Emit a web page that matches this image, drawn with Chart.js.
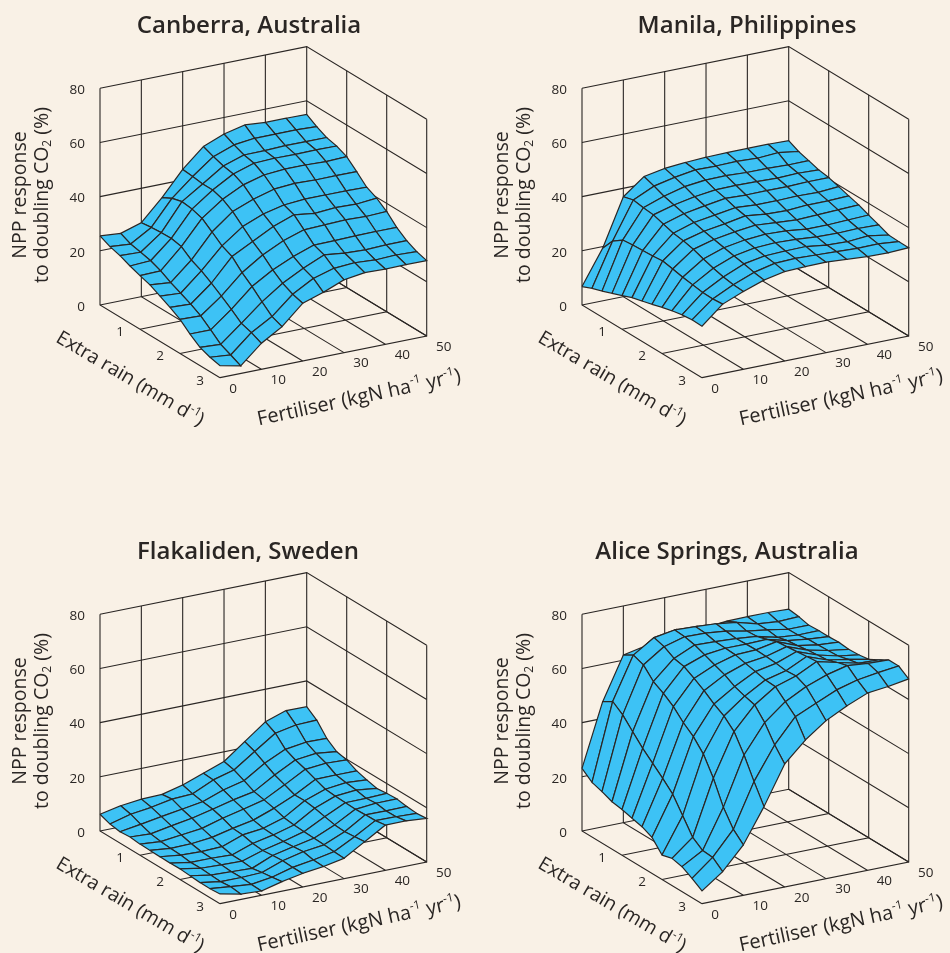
<!DOCTYPE html>
<html>
<head>
<meta charset="utf-8">
<title>NPP response to doubling CO2</title>
<script src="https://cdn.jsdelivr.net/npm/chart.js@4/dist/chart.umd.min.js"></script>
<style>
    html, body { margin: 0; padding: 0; width: 950px; height: 953px; overflow: hidden; background: #f9f1e6; }
    canvas { position: absolute; }
</style>
</head>
<body>
<canvas id="canberra" style="left:0;top:0"></canvas>
<canvas id="manila" style="left:482px;top:0"></canvas>
<canvas id="flakaliden" style="left:0;top:526px"></canvas>
<canvas id="alice" style="left:482px;top:526px"></canvas>
<script>
// Axis values
const fertiliserSteps = [0, 5, 10, 15, 20, 25, 30, 35, 40, 45, 50];
const rainSteps = [0, 0.25, 0.5, 0.75, 1, 1.25, 1.5, 1.75, 2, 2.25, 2.5, 2.75, 3];
const nppTicks = [0, 20, 40, 60, 80];
const fertiliserTicks = [0, 10, 20, 30, 40, 50];
const rainTicks = [1, 2, 3];

// NPP response, one row per fertiliser step, one value per rain step
const canberra = [
    [25.5, 23.8, 22.7, 21.1, 19.8, 18.6, 16.7, 14.8, 12.6, 9.4, 6.7, 5.3, 4.4],
    [24.9, 23.2, 22.4, 21.5, 20, 17.9, 16.2, 14.4, 12.3, 9.4, 6.3, 4.6, 2.8],
    [27.3, 27.8, 28.1, 28.2, 27.4, 24.7, 22.9, 20.6, 18.1, 15.4, 12.5, 11.3, 9.6],
    [35, 37, 38, 37.5, 36.3, 33.5, 30.6, 28.9, 25.2, 22.3, 18.9, 15.7, 14.2],
    [43.9, 43.5, 43, 43, 41.8, 39.5, 36.2, 32.9, 30.2, 26.9, 24.2, 22.4, 21.3],
    [50.8, 49.3, 48.1, 47.4, 45.6, 42.5, 39.3, 36.9, 33.9, 30.3, 28.2, 26.7, 23.8],
    [53.9, 52.1, 50.6, 49.8, 47.7, 44.7, 41.1, 39.7, 36.4, 33, 31.6, 28.9, 26.9],
    [55.7, 53, 50.7, 50.1, 48.3, 45.3, 41.7, 38.7, 36.7, 33.1, 30.7, 29.4, 28],
    [55.1, 53, 51, 50, 48.3, 45, 41.7, 39.3, 37, 33.3, 30.4, 28.9, 27.8],
    [55.1, 53, 50.9, 50.1, 48, 45.1, 41.7, 39, 36.7, 33.4, 30.7, 29.2, 27.9],
    [55, 52.7, 50.9, 50, 48.3, 45, 41.5, 39.7, 37, 33.4, 30.7, 28.9, 27.8]
];
const manila = [
    [6.8, 8.4, 9.6, 11, 12.4, 13.9, 14.9, 15.9, 17, 18, 18.7, 19.1, 19],
    [19.4, 24.3, 26.9, 27.3, 27.5, 27.7, 28.1, 27.4, 26.6, 26, 25.4, 25.3, 25.6],
    [36.9, 37.9, 37.3, 36.9, 35.7, 34.6, 34, 33.1, 31.8, 30.6, 29.6, 29, 28.7],
    [42.8, 41.5, 40, 39, 38, 37, 36, 35.2, 34.4, 33.6, 32.9, 32, 31.4],
    [44.3, 43.2, 42, 40.5, 39.4, 38.2, 37.2, 36.5, 35.7, 35, 34.3, 33.8, 33],
    [44.9, 44.4, 42.9, 41.5, 40.6, 39.4, 38.6, 37.4, 36.3, 35.4, 34.6, 34.1, 33.3],
    [45.3, 44.3, 43, 41.6, 40.3, 38.9, 37.7, 36.8, 36, 35.1, 34.7, 33.8, 33.4],
    [45.5, 44.5, 42.6, 41.5, 40.4, 38.9, 37.5, 36.3, 35.1, 34.5, 33.7, 33.5, 32.9],
    [45.5, 44.1, 42.6, 41.2, 40.3, 39.1, 38, 36.6, 35.1, 34.3, 33.4, 33.2, 32.4],
    [45.5, 44.6, 42.3, 41.5, 40.6, 38.9, 38, 36.9, 35.4, 34.5, 34, 33.3, 32.2],
    [45.3, 43.5, 42.4, 41.2, 40.6, 39.5, 38.3, 37.2, 35.7, 34.3, 32.8, 32.6, 32.6]
];
const flakaliden = [
    [6.2, 4.8, 4.2, 4.5, 4.1, 4, 3.9, 3.8, 3.9, 3.6, 3.3, 3.3, 3.6],
    [7.8, 6.9, 5.4, 4.1, 3.5, 3.2, 3, 2.5, 2.6, 2.3, 2.1, 2.5, 2],
    [8.7, 7.9, 6.7, 5.5, 4.4, 3.4, 2.7, 2.5, 2.3, 2, 2.1, 1.8, 1.6],
    [8.9, 9.4, 7.9, 6.8, 5.3, 4.2, 3, 2.2, 2.1, 1.7, 2.4, 2.9, 3.5],
    [10.8, 9.8, 9.1, 8.6, 7.5, 6, 5.8, 4.9, 4.5, 4.9, 5.2, 5, 5],
    [13.6, 13.4, 11.9, 10.5, 9.3, 7.5, 6.7, 6.5, 6.3, 6.6, 7, 6.2, 6],
    [16.4, 15.5, 13.8, 12, 11.2, 10.3, 9.1, 8.6, 8.4, 8.2, 8, 7.7, 7.5],
    [22.2, 20.8, 18.7, 16.6, 15.2, 13.7, 13.8, 13.3, 12.4, 11.6, 11.3, 11.7, 12.1],
    [28, 26, 22.3, 20.6, 19.4, 17.9, 16.5, 16.2, 16, 15.8, 16, 16.1, 16.7],
    [30.6, 27.5, 23.4, 21.5, 20.1, 18, 17.4, 16.9, 16.1, 16.5, 15.9, 16, 16.7],
    [30.5, 27.8, 23.3, 20.6, 19.8, 18, 16.9, 16, 16.4, 16.6, 16, 15.7, 16.1]
];
const alice = [
    [23.1, 20.2, 19, 17.5, 16.9, 15.9, 15, 13.3, 9, 10, 9.2, 7.1, 4.7],
    [46.2, 48.5, 45.8, 41.8, 37.9, 34.6, 31.3, 27.7, 22, 16.2, 13.6, 13.3, 10.3],
    [61.9, 64.1, 62.7, 58.8, 56.7, 54, 50.3, 47.4, 43.2, 36.5, 28, 22.1, 18.6],
    [63.5, 69, 67.9, 65.8, 65, 62.9, 60.6, 57.9, 55.7, 52.2, 45.8, 38.2, 31.2],
    [65, 70.3, 70, 69.2, 67.8, 66.3, 64.9, 62.8, 61.5, 60.5, 56.2, 50.2, 45.4],
    [65.5, 70, 69.8, 68.9, 68.7, 68.5, 67.6, 66.8, 65.9, 65.7, 62.4, 59.1, 52.7],
    [66, 69.5, 69, 68.5, 68.7, 68.8, 68.6, 68.3, 67.8, 68.1, 66.4, 62.5, 58.3],
    [66.7, 68.5, 67.5, 67.8, 68.9, 70.3, 70.7, 71.1, 71.5, 71.9, 69.2, 65.9, 62.2],
    [66.8, 66.4, 66.4, 65.9, 66.9, 67.3, 67.9, 68.3, 68.7, 70, 71.1, 68, 65.4],
    [66.8, 65.7, 65.1, 65.2, 65.9, 66, 66.2, 66.4, 67.4, 68.2, 70.4, 69.2, 66.3],
    [66.5, 66, 65.1, 65.3, 65.3, 65.5, 65.1, 65.3, 65.9, 67.9, 70.1, 70.1, 67.6]
];

// Look of the panels
const inkColor = '#2a2624';
const surfaceColor = '#3dc2f5';
const fontName = '"Open Sans", "Noto Sans", sans-serif';
const panelWidth = 468, panelHeight = 427;
const axisLeft = 100, originTop = 305;

// Oblique view of the box, in pixels per unit of each axis
const pxPerNpp = 216.7 / 80;
const pxPerFert = 206.7 / 50, fertRise = 41.7 / 50;
const rainRun = 40, rainDrop = 24.22;

// (fertiliser, rain, npp) to the values of the flat x and y scales
const project = function(f, r, z){
    return {
        x: f + r * rainRun / pxPerFert,
        y: z + (f * fertRise - r * rainDrop) / pxPerNpp
    };
}

const lineSet = function(points, color, width){
    return {
        data: points,
        showLine: true,
        fill: false,
        borderColor: color,
        borderWidth: width,
        pointRadius: 0,
        clip: false
    };
}

// Grid of the floor and of the two walls
const boxLines = function(){
    let sets = [];
    nppTicks.forEach(function(z){
        sets.push(lineSet([project(0, 0, z), project(50, 0, z), project(50, 3, z)], inkColor, 1.1));
    });
    fertiliserTicks.forEach(function(f){
        sets.push(lineSet([project(f, 0, 80), project(f, 0, 0), project(f, 3, 0)], inkColor, 1.1));
    });
    rainTicks.forEach(function(r){
        sets.push(lineSet([project(0, r, 0), project(50, r, 0), project(50, r, 80)], inkColor, 1.1));
    });
    return sets;
}

// One filled quad per grid cell, nearest first since the first dataset is painted last
const surfaceCells = function(values){
    let sets = [];
    for(let i = rainSteps.length - 2; i >= 0; i--){
        for(let j = 0; j < fertiliserSteps.length - 1; j++){
            let cell = lineSet([
                project(fertiliserSteps[j], rainSteps[i], values[j][i]),
                project(fertiliserSteps[j + 1], rainSteps[i], values[j + 1][i]),
                project(fertiliserSteps[j + 1], rainSteps[i + 1], values[j + 1][i + 1]),
                project(fertiliserSteps[j], rainSteps[i + 1], values[j][i + 1]),
                project(fertiliserSteps[j], rainSteps[i], values[j][i])
            ], inkColor, 1.2);
            cell.fill = 'shape';
            cell.backgroundColor = surfaceColor;
            sets.push(cell);
        }
    }
    return sets;
}

// Text with small raised or lowered runs, centred on a point
const drawRuns = function(ctx, runs, cx, cy, angle, size, weight){
    const full = (weight || '500') + ' ' + size + 'px ' + fontName;
    const small = (weight || '500') + ' ' + Math.round(size * 0.62) + 'px ' + fontName;
    let total = 0;
    runs.forEach(function(run){
        ctx.font = run.shift ? small : full;
        total += ctx.measureText(run.text).width;
    });
    ctx.save();
    ctx.translate(cx, cy);
    ctx.rotate(angle * Math.PI / 180);
    ctx.fillStyle = inkColor;
    ctx.textAlign = 'left';
    ctx.textBaseline = 'middle';
    let x = -total / 2;
    runs.forEach(function(run){
        ctx.font = run.shift ? small : full;
        ctx.fillText(run.text, x, (run.shift || 0) * size);
        x += ctx.measureText(run.text).width;
    });
    ctx.restore();
}

// Title, axis titles and the tick labels of the two floor axes
const panelText = function(title, titleX){
    return {
        id: 'panelText',
        afterDraw: function(chart){
            const ctx = chart.ctx, sx = chart.scales.x, sy = chart.scales.y;
            const pixel = function(f, r){
                let p = project(f, r, 0);
                return [sx.getPixelForValue(p.x), sy.getPixelForValue(p.y)];
            };
            drawRuns(ctx, [{text: title}], titleX, 26, 0, 24, '600');
            drawRuns(ctx, [{text: 'NPP response'}], 20, 195, -90, 19.5);
            drawRuns(ctx, [
                {text: 'to doubling CO'}, {text: '2', shift: 0.3}, {text: ' (%)'}
            ], 42, 195, -90, 19.5);
            drawRuns(ctx, [
                {text: 'Extra rain (mm d'}, {text: '-1', shift: -0.3}, {text: ')'}
            ], 130, 379, 30.5, 19.5);
            drawRuns(ctx, [
                {text: 'Fertiliser (kgN ha'}, {text: '-1', shift: -0.3}, {text: ' yr'}, {text: '-1', shift: -0.3}, {text: ')'}
            ], 359, 398, -12.2, 20);
            rainTicks.forEach(function(r){
                let p = pixel(0, r);
                drawRuns(ctx, [{text: String(r)}], p[0] - 20, p[1] + 3, 0, 13.5);
            });
            fertiliserTicks.forEach(function(f){
                let p = pixel(f, 3);
                drawRuns(ctx, [{text: String(f)}], p[0] + (f === 0 ? 13 : 17), p[1] + 11, 0, 13.5);
            });
        }
    };
}

const makePanel = function(id, title, titleX, values){
    let canvas = document.getElementById(id);
    canvas.width = panelWidth;
    canvas.height = panelHeight;
    new Chart(canvas.getContext('2d'), {
        type: 'scatter',
        data: {datasets: surfaceCells(values).concat(boxLines())},
        options: {
            responsive: false,
            animation: false,
            events: [],
            layout: {padding: 0},
            plugins: {legend: {display: false}, tooltip: {enabled: false}},
            scales: {
                x: {
                    type: 'linear',
                    display: false,
                    min: 0,
                    max: (panelWidth - axisLeft) / pxPerFert
                },
                y: {
                    type: 'linear',
                    min: (originTop - panelHeight) / pxPerNpp,
                    max: originTop / pxPerNpp,
                    grid: {display: false},
                    border: {display: false},
                    afterBuildTicks: function(axis){
                        axis.ticks = nppTicks.map(v => ({value: v}));
                    },
                    afterFit: function(axis){
                        // the scale has to fill the canvas height so the pixel sizes above hold
                        axis.width = axisLeft;
                        axis.paddingTop = 0;
                        axis.paddingBottom = 0;
                        axis._margins.top = 0;
                        axis._margins.bottom = 0;
                    },
                    ticks: {
                        color: inkColor,
                        padding: 7,
                        labelOffset: 2,
                        autoSkip: false,
                        font: {family: fontName, size: 13.5, weight: '500'}
                    }
                }
            }
        },
        plugins: [panelText(title, titleX)]
    });
}

makePanel('canberra', 'Canberra, Australia', 249, canberra);
makePanel('manila', 'Manila, Philippines', 265, manila);
makePanel('flakaliden', 'Flakaliden, Sweden', 248, flakaliden);
makePanel('alice', 'Alice Springs, Australia', 245, alice);
</script>
</body>
</html>
